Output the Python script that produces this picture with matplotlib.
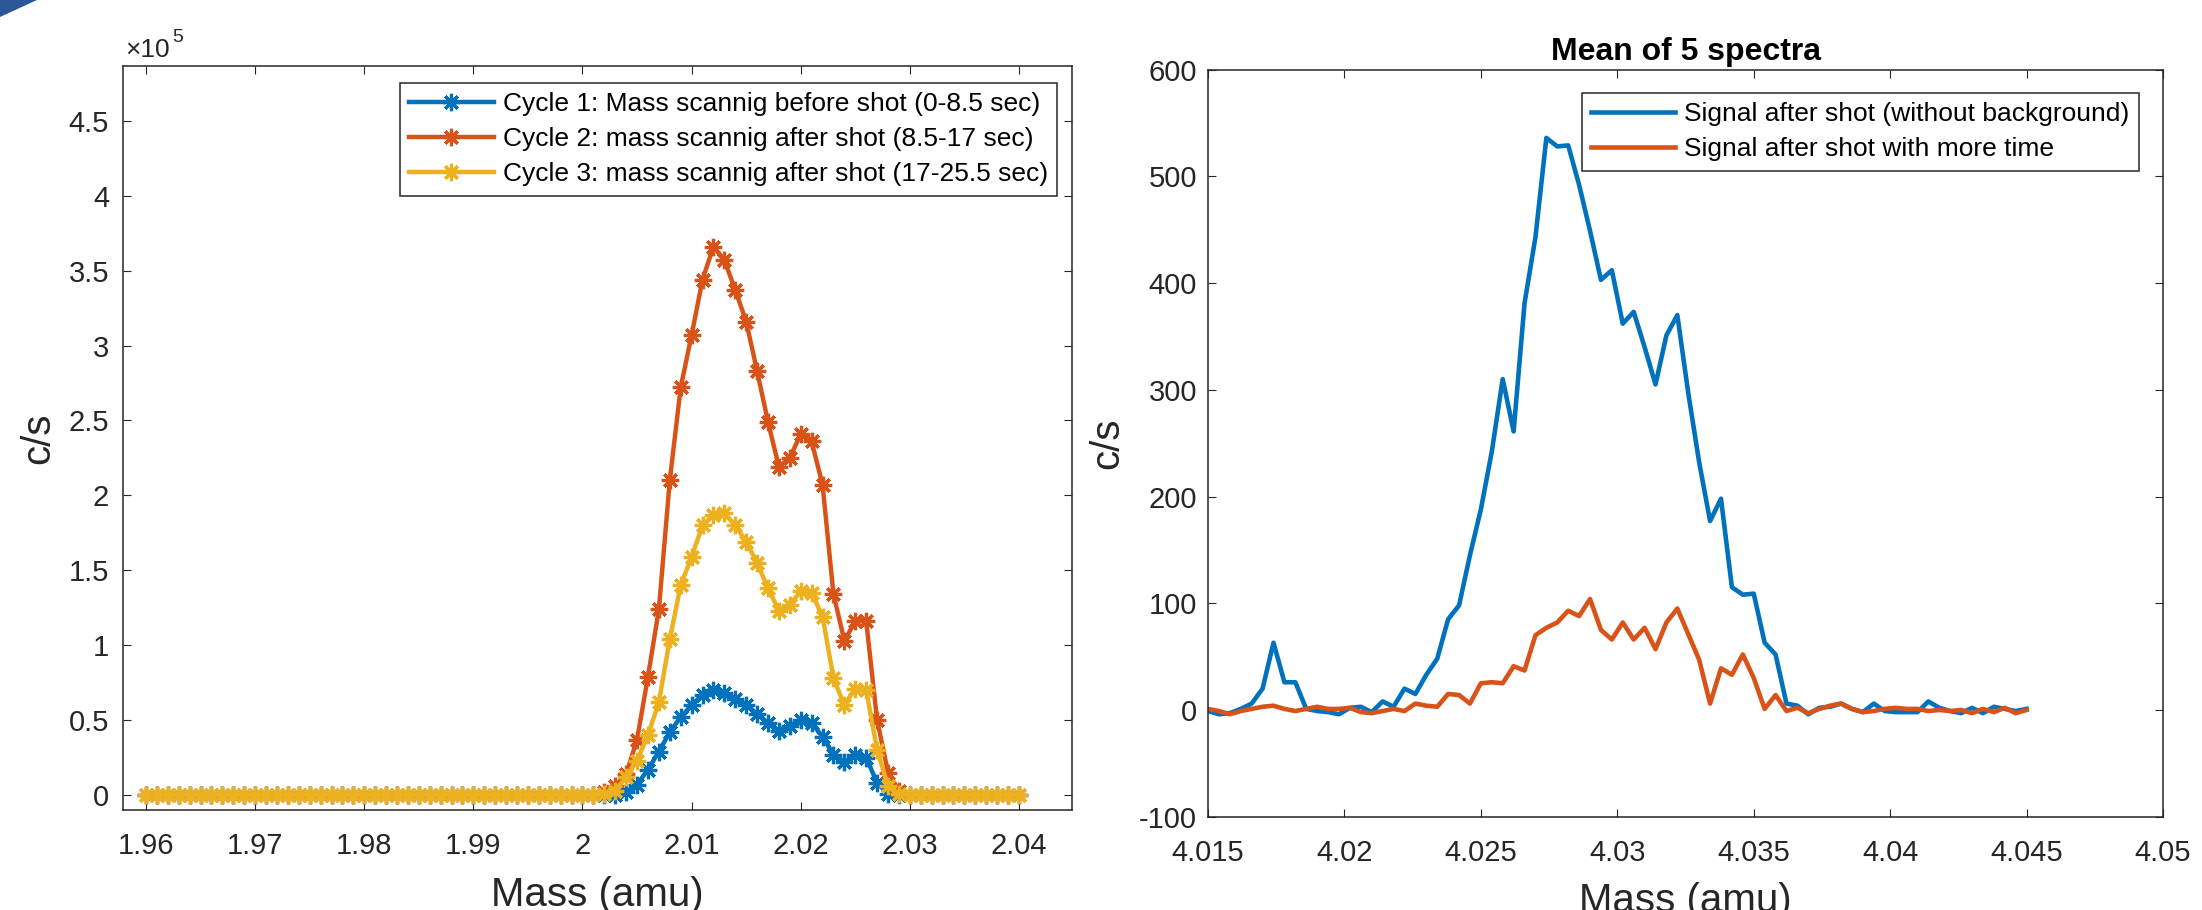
import numpy as np
import matplotlib
matplotlib.use('Agg')
import matplotlib.pyplot as plt
from matplotlib.ticker import FuncFormatter, MultipleLocator
from matplotlib.patches import Polygon

plt.rcParams['font.family'] = ['Liberation Sans', 'DejaVu Sans']
plt.rcParams['axes.unicode_minus'] = False

# ---- left panel: mass scans, c/s in units of 1e5
mass_left = np.linspace(1.96, 2.04, 81)

cycle1 = [0] * 43 + [0.00, 0.02, 0.07, 0.17, 0.29, 0.42, 0.52, 0.60, 0.67, 0.70,
                     0.68, 0.64, 0.60, 0.54, 0.48, 0.43, 0.46, 0.50, 0.48, 0.39,
                     0.27, 0.22, 0.27, 0.25, 0.08, 0.01] + [0] * 12
cycle2 = [0] * 42 + [0.02, 0.06, 0.14, 0.37, 0.79, 1.24, 2.10, 2.72, 3.07, 3.44,
                     3.66, 3.57, 3.37, 3.16, 2.83, 2.49, 2.19, 2.25, 2.41, 2.36,
                     2.07, 1.34, 1.03, 1.16, 1.16, 0.50, 0.15, 0.03] + [0] * 11
cycle3 = [0] * 42 + [0.01, 0.03, 0.12, 0.23, 0.40, 0.62, 1.04, 1.40, 1.59, 1.80,
                     1.87, 1.88, 1.80, 1.69, 1.55, 1.38, 1.23, 1.27, 1.36, 1.35,
                     1.19, 0.78, 0.60, 0.71, 0.70, 0.30, 0.06, 0.01] + [0] * 11
cycle_labels = ['Cycle 1: Mass scannig before shot (0-8.5 sec)',
                'Cycle 2: mass scannig after shot (8.5-17 sec)',
                'Cycle 3: mass scannig after shot (17-25.5 sec)']

# ---- right panel: mean of 5 spectra
mass_right = np.linspace(4.015, 4.045, 76)

signal_nobg = [-1, -4, -3, 1, 6, 20, 63, 26, 26, 1,
               -1, -2, -4, 2, 3, -2, 8, 3, 20, 15,
               33, 48, 85, 98, 145, 188, 242, 310, 261, 381,
               443, 536, 528, 529, 492, 449, 403, 412, 362, 373,
               340, 305, 351, 370, 297, 232, 177, 198, 115, 108,
               109, 63, 52, 6, 4, -4, 2, 3, 6, 1,
               -2, 6, -1, -2, -2, -2, 8, 2, -1, -3,
               2, -3, 3, 1, -1, 1]
signal_more = [1, -1, -4, -1, 1, 3, 4, 1, -1, 1,
               3, 1, 1, 2, -2, -3, -1, 1, -1, 6,
               4, 3, 15, 14, 6, 25, 26, 25, 41, 37,
               70, 77, 82, 93, 88, 104, 75, 66, 82, 66,
               77, 57, 82, 95, 71, 47, 6, 39, 33, 52,
               30, 1, 14, -1, 2, -3, 1, 4, 6, 1,
               -2, -1, 1, 2, 1, 1, -1, 0, -1, 0,
               -3, 1, -2, 2, -3, 0]
signal_labels = ['Signal after shot (without background)',
                 'Signal after shot with more time']

c_blue, c_red, c_yellow = '#0072BD', '#D95319', '#EDB120'
dark = '#262626'
star = (8, 2, 0)

fig = plt.figure(figsize=(22.02, 9.10), dpi=100)

# slide corner decoration
fig.patches.append(Polygon([[0, 1], [37 / 2202, 1], [0, 1 - 17 / 910]], closed=True,
                           transform=fig.transFigure, facecolor='#2B5797',
                           edgecolor='none'))


def style_axes(ax, xpad, ypad):
    for s in ax.spines.values():
        s.set_color(dark)
        s.set_linewidth(1.1)
    ax.tick_params(axis='both', direction='in', top=True, right=True,
                   length=6, width=0.8, colors=dark, labelsize=21)
    ax.tick_params(axis='x', pad=xpad)
    ax.tick_params(axis='y', pad=ypad)


def add_legend(ax, anchor):
    leg = ax.legend(loc='upper right', bbox_to_anchor=anchor,
                    borderaxespad=0, fontsize=19, handlelength=3.2,
                    handletextpad=0.34, labelspacing=0.42, borderpad=0.35,
                    fancybox=False, framealpha=1, edgecolor=dark)
    leg.get_frame().set_linewidth(1.1)
    return leg


fmt = FuncFormatter(lambda v, p: '%g' % round(v, 4))

# left
ax1 = fig.add_axes([0.05586, 0.10989, 0.43097, 0.81802])
for vals, col, lab in zip([cycle1, cycle2, cycle3], [c_blue, c_red, c_yellow], cycle_labels):
    ax1.plot(mass_left, vals, color=col, lw=3.2, marker=star, ms=12.5, mew=2.3,
             label=lab)
ax1.set_xlim(1.95789, 2.04486)
ax1.set_ylim(-0.1, 4.868)
ax1.xaxis.set_major_locator(MultipleLocator(0.01))
ax1.yaxis.set_major_locator(MultipleLocator(0.5))
ax1.xaxis.set_major_formatter(fmt)
ax1.yaxis.set_major_formatter(fmt)
style_axes(ax1, 16, 10)
ax1.set_xlabel('Mass (amu)', fontsize=29, color=dark, labelpad=11)
ax1.set_ylabel('c/s', fontsize=29, color=dark, labelpad=8)
add_legend(ax1, (0.9842, 0.9766))
fig.text(125 / 2202, 1 - 57 / 910, '\u00d710', fontsize=19, color=dark,
         va='baseline', ha='left')
fig.text(172 / 2202, 1 - 42 / 910, '5', fontsize=14, color=dark,
         va='baseline', ha='left')

# right
ax2 = fig.add_axes([0.54860, 0.10253, 0.43370, 0.82099])
ax2.plot(mass_right, signal_nobg, color=c_blue, lw=3.3, label=signal_labels[0])
ax2.plot(mass_right, signal_more, color=c_red, lw=3.3, label=signal_labels[1])
ax2.set_xlim(4.015, 4.05)
ax2.set_ylim(-100, 600)
ax2.xaxis.set_major_locator(MultipleLocator(0.005))
ax2.yaxis.set_major_locator(MultipleLocator(100))
ax2.xaxis.set_major_formatter(fmt)
ax2.yaxis.set_major_formatter(fmt)
style_axes(ax2, 16, 8)
ax2.set_xlabel('Mass (amu)', fontsize=29, color=dark, labelpad=11)
ax2.set_ylabel('c/s', fontsize=29, color=dark, labelpad=9)
ax2.set_title('Mean of 5 spectra', fontsize=23, fontweight='bold', pad=7)
add_legend(ax2, (0.9745, 0.9687))

fig.savefig('out.png', dpi=100)
